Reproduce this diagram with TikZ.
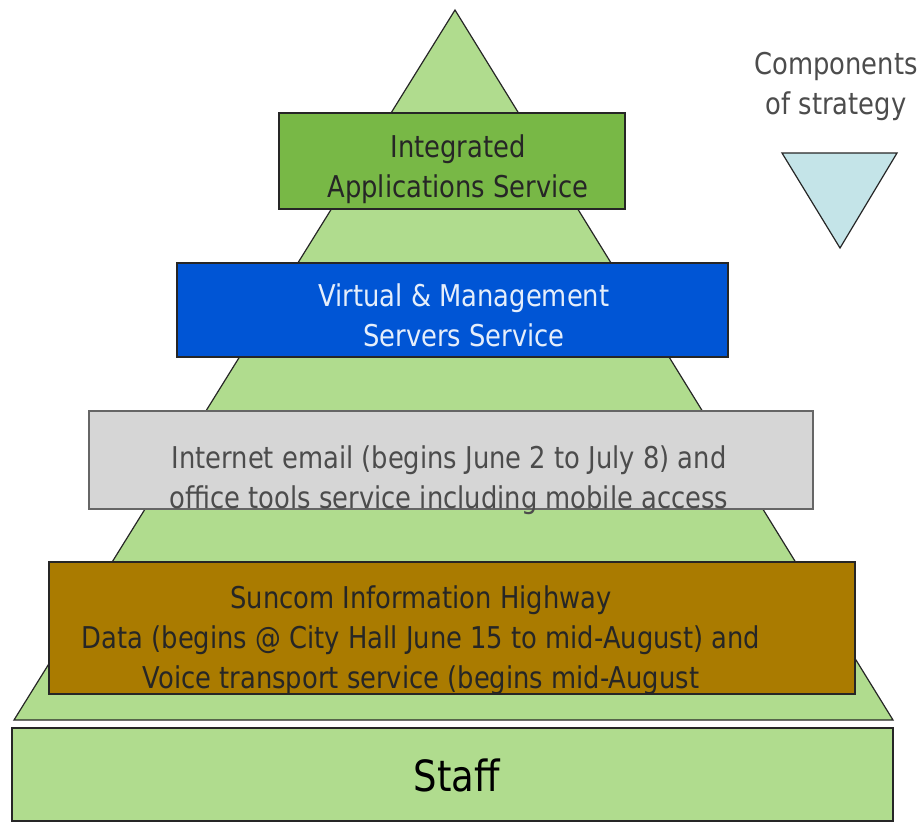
\documentclass[tikz,border=0pt]{standalone}
\usepackage{fontspec}
\setmainfont{DejaVu Sans}[FakeStretch=0.86]
\usetikzlibrary{positioning}

\definecolor{pyrgreen}{HTML}{B0DC8E}
\definecolor{appgreen}{HTML}{78B846}
\definecolor{srvblue}{HTML}{0055D5}
\definecolor{mailgray}{HTML}{D6D6D6}
\definecolor{hwybrown}{HTML}{AA7B00}
\definecolor{legcyan}{HTML}{C4E4E8}

\tikzset{
	layer/.style={draw=black!85, line width=1.4pt, inner sep=0pt},
	layertext/.style={align=center, font=\fontsize{30}{40}\selectfont, inner sep=0pt}
}

\begin{document}
\begin{tikzpicture}[x=1pt, y=-1pt]
			%%%%% START %%%%%
			\useasboundingbox (0, 0) rectangle (921, 823);
			
			% pyramid behind the layers
			\draw[fill=pyrgreen, line width=1.2pt, draw=black!85] (14, 720) -- (455, 10) -- (893, 720) -- cycle;
			
			% staff base
			\node[layer, fill=pyrgreen, minimum width=881pt, minimum height=93pt] (staff) at (452.5, 774.5) {};
			\node[font=\fontsize{43}{50}\selectfont, inner sep=0pt] (stafftext) at (457, 775) {Staff};
			
			% service layers
			\node[layer, fill=appgreen, minimum width=346pt, minimum height=96pt] (apps) at (452, 161) {};
			\node[layertext, color=black!85] (appstext) at (458, 169) {Integrated\\Applications Service};
			
			\node[layer, fill=srvblue, minimum width=551pt, minimum height=94pt] (servers) at (452.5, 310) {};
			\node[layertext, color=white!90!srvblue] (serverstext) at (464, 315) {Virtual \& Management\\Servers Service};
			
			\node[layer, draw=black!60, fill=mailgray, minimum width=724pt, minimum height=98pt] (mail) at (451, 460) {};
			\node[layertext, color=black!70] (mailtext) at (449, 480) {Internet email (begins June 2 to July 8) and\\office tools service including mobile access};
			
			\node[layer, fill=hwybrown, minimum width=806pt, minimum height=132pt] (highway) at (452, 628) {};
			\node[layertext, color=black!85] (highwaytext) at (421, 640) {Suncom Information Highway\\Data (begins @ City Hall June 15 to mid-August) and\\Voice transport service (begins mid-August};
			
			% legend
			\node[layertext, color=black!70] (legendtext) at (836, 86) {Components\\of strategy};
			\draw[fill=legcyan, line width=1.2pt, draw=black!85] (782, 153) -- (897, 153) -- (840, 248) -- cycle;
			
			%%%%% END %%%%%
		\end{tikzpicture}
\end{document}
